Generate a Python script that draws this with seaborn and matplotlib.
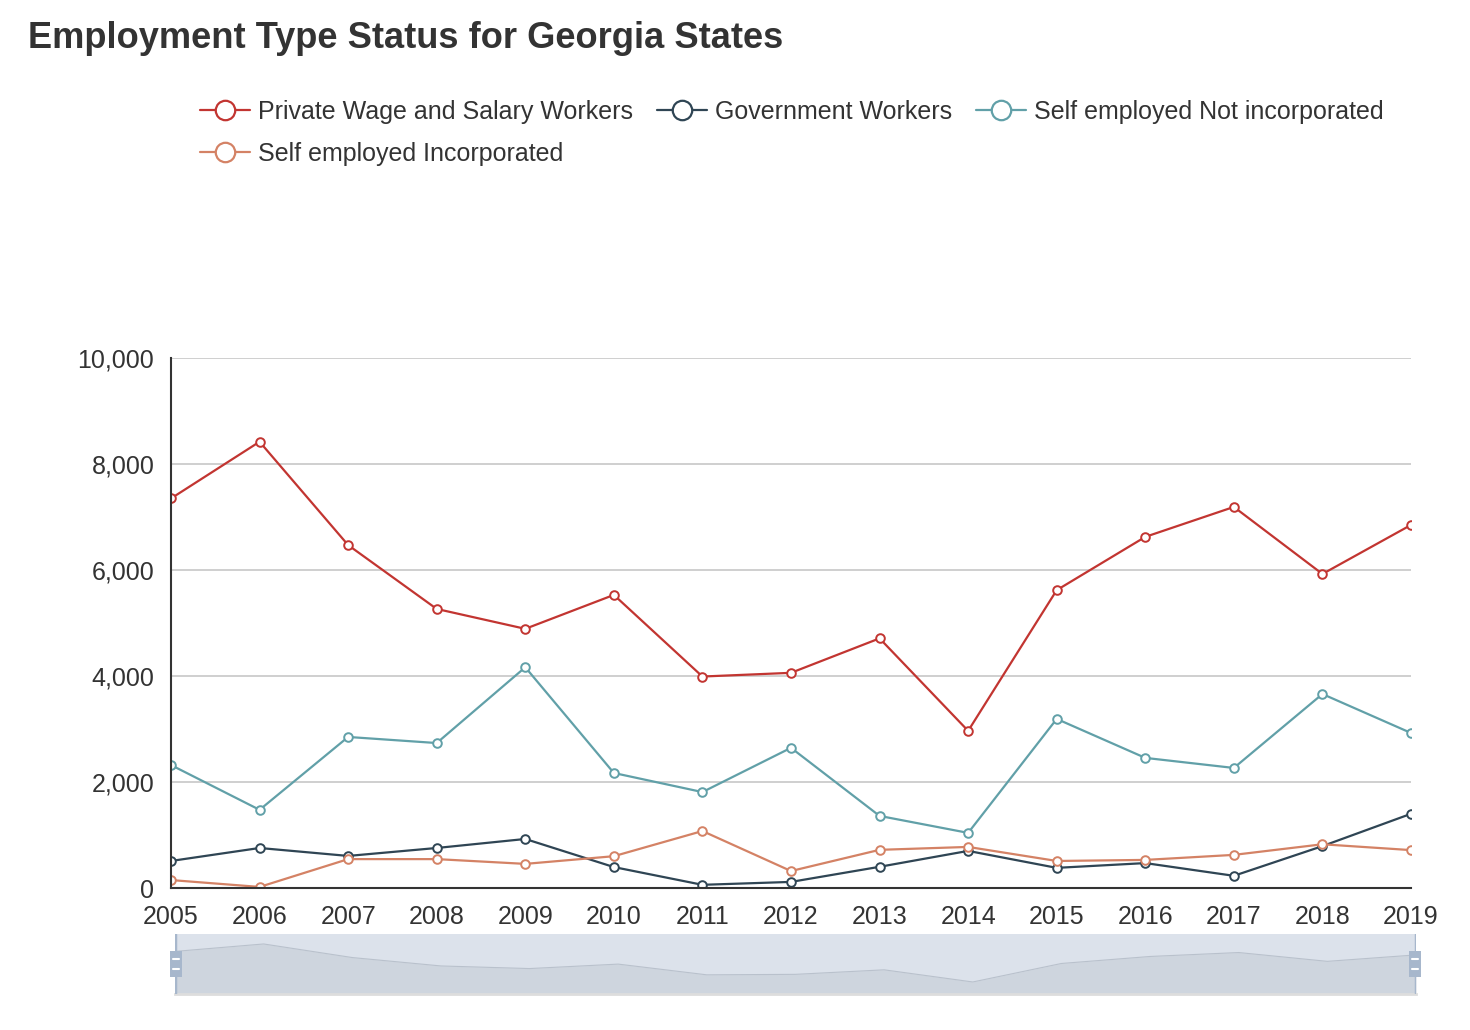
import numpy as np
import pandas as pd
import seaborn as sns
import matplotlib
matplotlib.use("Agg")
import matplotlib.pyplot as plt
from matplotlib.lines import Line2D
from matplotlib.patches import Rectangle
from matplotlib.ticker import FuncFormatter

years = list(range(2005, 2020))
private_wage = [7350, 8420, 6470, 5265, 4890, 5530, 3990, 4060, 4710, 2965, 5620, 6625, 7190, 5925, 6850]
government = [510, 755, 605, 755, 925, 395, 60, 115, 400, 700, 380, 470, 230, 790, 1400]
self_not_inc = [2320, 1475, 2850, 2735, 4165, 2170, 1810, 2645, 1360, 1040, 3190, 2455, 2265, 3660, 2925]
self_inc = [150, 20, 545, 545, 455, 600, 1075, 320, 720, 775, 510, 530, 625, 825, 715]

series_names = ["Private Wage and Salary Workers", "Government Workers",
                "Self employed Not incorporated", "Self employed Incorporated"]
series_values = [private_wage, government, self_not_inc, self_inc]
colors = ["#c23531", "#2f4554", "#61a0a8", "#d48265"]

sns.set_theme(style="white")
plt.rcParams['font.family'] = ['Liberation Sans', 'DejaVu Sans']
TXT = "#333333"

fig = plt.figure(figsize=(14.7, 10.3), dpi=100)
W, H = 1470, 1030
ax = fig.add_axes([171 / W, 1 - 888 / H, (1411 - 171) / W, (888 - 358) / H])

for name, vals, c in zip(series_names, series_values, colors):
    df = pd.DataFrame({"year": years, "value": vals})
    sns.lineplot(data=df, x="year", y="value", ax=ax, color=c, lw=1.6,
                 marker="o", markersize=6.2, markerfacecolor="white",
                 markeredgecolor=c, markeredgewidth=1.4, legend=False, zorder=3)

ax.set_xlim(2005, 2019)
ax.set_ylim(0, 10000)
ax.set_xticks(years)
ax.set_yticks(np.arange(0, 10001, 2000))
ax.yaxis.set_major_formatter(FuncFormatter(lambda v, p: f"{int(v):,}"))
ax.set_xlabel("")
ax.set_ylabel("")
for y in range(2000, 10001, 2000):
    ax.axhline(y, color="#cccccc", lw=1.3, zorder=1)
for s in ["top", "right"]:
    ax.spines[s].set_visible(False)
for s in ["left", "bottom"]:
    ax.spines[s].set_color(TXT)
    ax.spines[s].set_linewidth(1.5)
    ax.spines[s].set_zorder(4)
ax.tick_params(axis="both", which="major", direction="out", length=7.5, width=1.4,
               color=TXT, labelcolor=TXT, labelsize=18)
ax.tick_params(axis="y", pad=4.5)
ax.tick_params(axis="x", pad=5)
ax.set_facecolor("white")

# title
fig.text(28 / W, 1 - 39 / H, "Employment Type Status for Georgia States",
         fontsize=26.1, fontweight="bold", color=TXT, va="center", ha="left")

# legend (row-wise order emulated for column-major filling)
order = [0, 3, 1, 2]
handles = [Line2D([0], [0], color=colors[i], lw=1.6, marker="o", markersize=14,
                  markerfacecolor="white", markeredgecolor=colors[i], markeredgewidth=1.6)
           for i in order]
labels = [series_names[i] for i in order]
leg = fig.legend(handles, labels, loc="upper left",
                 bbox_to_anchor=(200 / W, 1 - 100 / H), ncol=3, frameon=False,
                 fontsize=18, handlelength=2.0, handletextpad=0.32,
                 columnspacing=0.95, labelspacing=0.72, borderaxespad=0,
                 borderpad=0)
for t in leg.get_texts():
    t.set_color(TXT)

# data zoom slider
zx0, zx1, zy0, zy1 = 175, 1416, 934, 994
zax = fig.add_axes([zx0 / W, 1 - zy1 / H, (zx1 - zx0) / W, (zy1 - zy0) / H])
zax.set_xlim(2005, 2019)
zax.set_ylim(1240, 9850)
zax.set_facecolor("#dce2eb")
zax.fill_between(years, private_wage, 0, color="#ced5de", lw=0, zorder=2)
zax.plot(years, private_wage, color="#b9c1cc", lw=0.8, zorder=3)
for s in zax.spines.values():
    s.set_visible(False)
zax.spines["bottom"].set_visible(True)
zax.spines["bottom"].set_color("#dddddd")
zax.spines["bottom"].set_linewidth(2)
zax.set_xticks([])
zax.set_yticks([])
zax.axvline(2005, color="#a7b7cc", lw=2.5, zorder=4)
zax.axvline(2019, color="#a7b7cc", lw=2.5, zorder=4)

# handles
for hx in (zx0 + 1, zx1 - 1):
    rx0 = (hx - 6) / W
    ry0 = 1 - (964 + 13) / H
    fig.patches.append(Rectangle((rx0, ry0), 12 / W, 26 / H, transform=fig.transFigure,
                                 facecolor="#a7b7cc", edgecolor="none", zorder=10))
    for dy in (-5, 5):
        fig.lines.append(Line2D([(hx - 3) / W, (hx + 3) / W],
                                [1 - (964 + dy) / H, 1 - (964 + dy) / H],
                                transform=fig.transFigure, color="white", lw=1.5, zorder=11))

fig.savefig("out.png", dpi=100, facecolor="white")
